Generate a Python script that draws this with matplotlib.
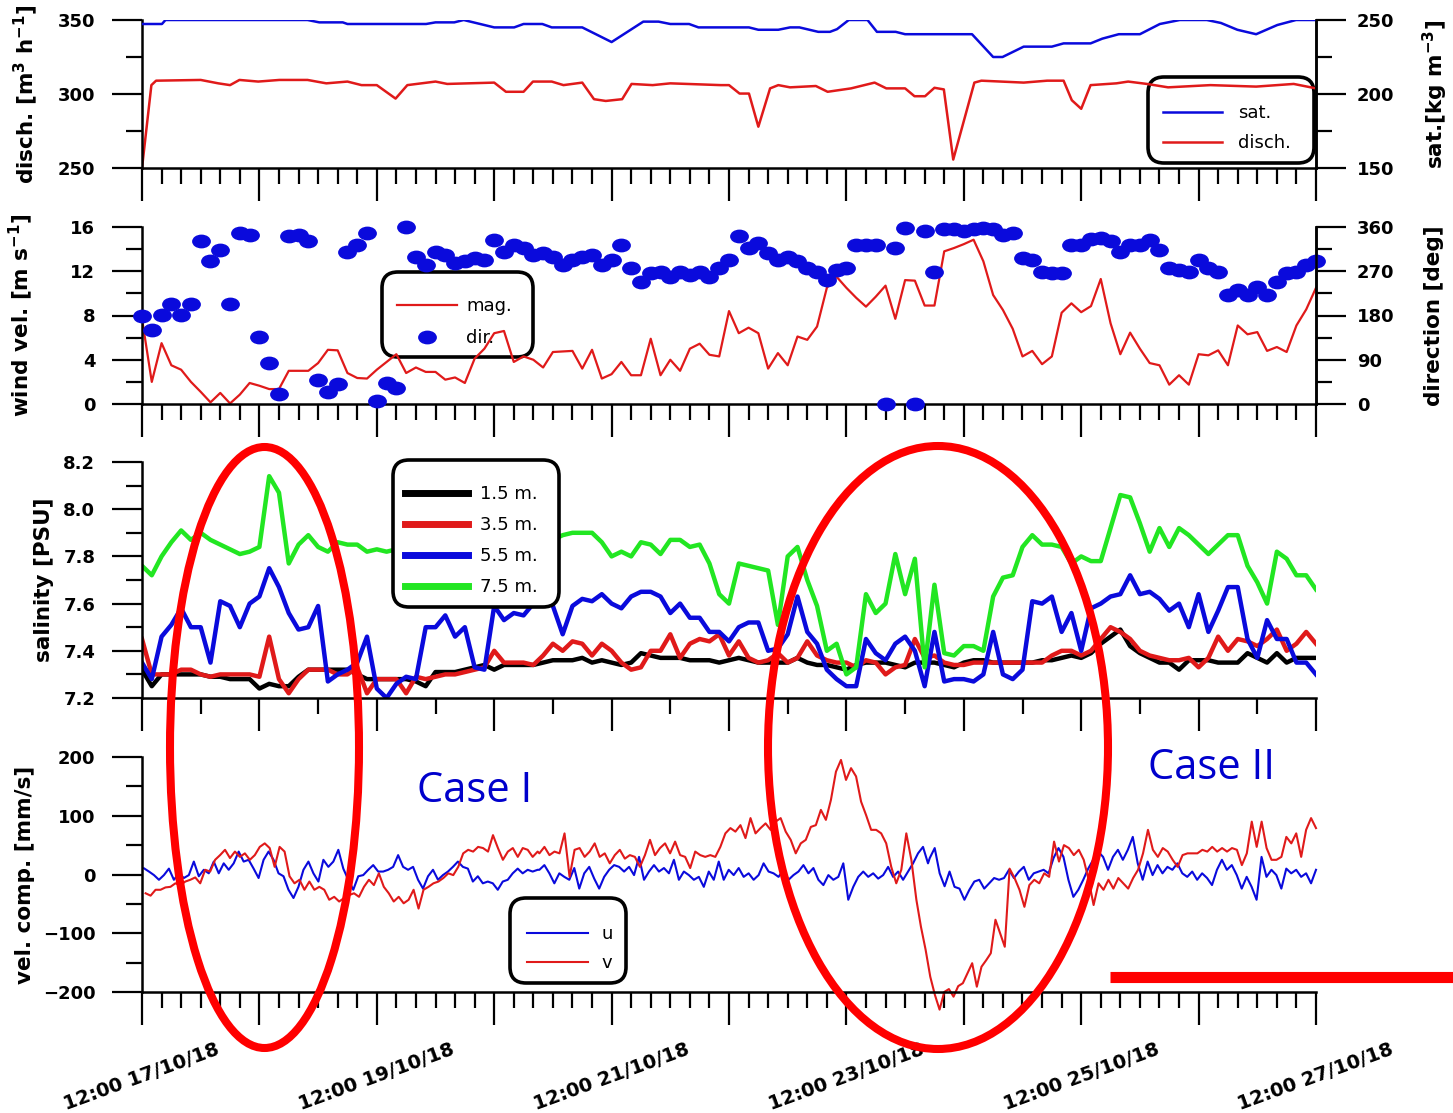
import numpy as np
import matplotlib
matplotlib.use('Agg')
import matplotlib.pyplot as plt
from matplotlib.patches import Ellipse, FancyBboxPatch
from matplotlib.lines import Line2D
from matplotlib.path import Path
from matplotlib.transforms import Affine2D
from matplotlib.ticker import MultipleLocator, FormatStrFormatter, FuncFormatter

plt.rcParams['font.family'] = ['DejaVu Sans']
plt.rcParams['font.weight'] = 'bold'
plt.rcParams['mathtext.fontset'] = 'custom'
plt.rcParams['mathtext.rm'] = 'DejaVu Sans:bold'
plt.rcParams['mathtext.it'] = 'DejaVu Sans:bold'
plt.rcParams['mathtext.bf'] = 'DejaVu Sans:bold'
plt.rcParams['mathtext.default'] = 'rm'

# ---------------- data (time in days after 12:00 17/10/18) ----------------
tick_days = [0, 2, 4, 6, 8, 10]
tick_labels = ['12:00 17/10/18', '12:00 19/10/18', '12:00 21/10/18',
               '12:00 23/10/18', '12:00 25/10/18', '12:00 27/10/18']

# saturation [kg m-3]
sat_t = [0, 0.17, 0.2, 1.41, 1.51, 1.71, 1.75, 2.42, 2.5, 2.66, 2.74, 3.0, 3.17, 3.25,
         3.41, 3.49, 3.75, 4.0, 4.27, 4.4, 4.5, 4.66, 4.74, 5.17, 5.25, 5.42, 5.52, 5.6,
         5.76, 5.86, 5.92, 6.02, 6.18, 6.26, 6.42, 6.5, 7.07, 7.25, 7.33, 7.51, 7.75,
         7.85, 8.08, 8.18, 8.32, 8.5, 8.67, 8.84, 9.07, 9.19, 9.33, 9.49, 9.67, 9.83, 10.0]
sat_v = [247.3, 247.3, 250, 250, 248.4, 248.4, 247.3, 247.3, 248.4, 248.4, 250, 245, 245,
         247.3, 247.3, 245, 245, 235.1, 248.9, 248.9, 247.3, 247.3, 245, 245, 243.4, 243.4,
         245, 245, 242, 242, 243.8, 250, 250, 242, 242, 240.4, 240.4, 225, 225, 232, 232,
         234.2, 234.2, 237.4, 240.4, 240.4, 247.3, 250, 250, 248, 243.4, 240.4, 246.6, 250, 250]

# discharge [m3 h-1]
disch_t = [0, 0.08, 0.12, 0.5, 0.65, 0.75, 0.83, 0.99, 1.17, 1.41, 1.57, 1.75, 1.87, 2.0,
           2.16, 2.26, 2.5, 2.6, 3.0, 3.1, 3.25, 3.33, 3.49, 3.59, 3.75, 3.85, 3.95, 4.09,
           4.17, 4.35, 4.5, 4.93, 5.0, 5.09, 5.17, 5.25, 5.35, 5.42, 5.52, 5.74, 5.84, 6.04,
           6.24, 6.34, 6.5, 6.58, 6.67, 6.75, 6.83, 6.91, 7.09, 7.15, 7.51, 7.71, 7.85, 7.92,
           8.0, 8.08, 8.3, 8.4, 8.56, 8.74, 9.1, 9.49, 9.81, 10.0]
disch_v = [250, 306, 309, 309.5, 307.2, 306, 309.5, 308.4, 309.5, 309.5, 307.2, 308.4, 306,
           306, 296.9, 306, 308.4, 306.8, 307.7, 301.5, 301.5, 308.4, 308.4, 306, 307.7,
           296.5, 295.3, 296.5, 306.8, 306, 307.2, 306, 306, 300.3, 300.3, 277.9, 303.8, 306,
           304.5, 305.4, 301.5, 303.8, 307.7, 303.8, 303.8, 298.5, 298.5, 304.2, 303.1, 255.7,
           307.7, 309, 307.7, 309, 309, 295.8, 290, 306, 307.2, 308.4, 306.8, 304.5, 306,
           305, 306.8, 303.8]

# wind, 2-hourly
wind_mag = [7.7, 2.0, 5.5, 3.5, 3.1, 2.0, 1.1, 0.15, 1.0, 0.05, 0.85, 1.9, 1.65, 1.35, 1.35,
            3.0, 3.0, 3.0, 3.7, 4.9, 4.85, 2.8, 2.35, 2.3, 3.1, 3.8, 4.5, 2.8, 3.3, 2.9, 2.9,
            2.2, 2.4, 1.9, 4.1, 5.0, 6.4, 6.6, 3.8, 4.3, 4.0, 3.3, 4.7, 4.75, 4.8, 3.2, 4.9,
            2.3, 2.7, 3.8, 2.6, 2.6, 5.9, 2.6, 4.0, 3.0, 5.0, 5.45, 4.45, 4.3, 8.4, 6.4, 6.9,
            6.4, 3.2, 4.6, 3.5, 6.1, 5.8, 7.0, 10.5, 11.5, 10.5, 9.6, 8.8, 9.7, 10.7, 7.7,
            11.2, 11.15, 8.9, 8.9, 13.8, 14.1, 14.45, 14.85, 12.9, 9.85, 8.5, 6.8, 4.3, 4.8,
            3.6, 4.3, 8.25, 9.1, 8.3, 8.85, 11.3, 7.3, 4.5, 6.45, 5.0, 3.7, 3.5, 1.75, 2.6,
            1.75, 4.5, 4.4, 4.85, 3.5, 7.1, 6.3, 6.5, 4.8, 5.15, 4.7, 7.1, 8.55, 10.5]
wind_dir = [179, 150, 181, 203, 181, 203, 331, 290, 314, 203, 348, 344, 136, 84, 20, 341,
            344, 331, 48, 24, 41, 310, 324, 348, 7, 42, 33, 360, 300, 283, 310, 303, 286,
            290, 297, 293, 334, 310, 324, 317, 303, 307, 300, 283, 293, 300, 303, 283, 293,
            324, 276, 249, 266, 269, 259, 269, 262, 269, 259, 276, 292, 341, 317, 327, 307,
            293, 300, 290, 276, 269, 252, 273, 276, 324, 324, 324, 0, 317, 358, 0, 351, 269,
            355, 356, 351, 356, 358, 355, 344, 348, 297, 293, 269, 266, 266, 324, 324, 335,
            337, 331, 310, 324, 324, 334, 314, 276, 273, 269, 293, 276, 269, 222, 232, 222,
            237, 222, 249, 266, 269, 283, 290]

# salinity [PSU], 2-hourly
sal_15 = [7.32, 7.25, 7.30, 7.30, 7.30, 7.30, 7.30, 7.29, 7.29, 7.28, 7.28, 7.28, 7.24, 7.26,
          7.25, 7.25, 7.29, 7.32, 7.32, 7.32, 7.32, 7.32, 7.30, 7.28, 7.28, 7.28, 7.28, 7.28,
          7.27, 7.25, 7.31, 7.31, 7.31, 7.32, 7.33, 7.34, 7.32, 7.34, 7.34, 7.34, 7.34, 7.35,
          7.36, 7.36, 7.36, 7.37, 7.35, 7.36, 7.35, 7.34, 7.35, 7.39, 7.38, 7.37, 7.37, 7.37,
          7.36, 7.36, 7.36, 7.35, 7.36, 7.37, 7.36, 7.35, 7.35, 7.35, 7.35, 7.37, 7.35, 7.34,
          7.34, 7.33, 7.32, 7.34, 7.35, 7.35, 7.35, 7.34, 7.33, 7.35, 7.35, 7.35, 7.34, 7.33,
          7.35, 7.36, 7.36, 7.35, 7.35, 7.35, 7.35, 7.35, 7.36, 7.36, 7.37, 7.38, 7.37, 7.39,
          7.43, 7.46, 7.49, 7.42, 7.39, 7.37, 7.35, 7.35, 7.32, 7.36, 7.36, 7.36, 7.35, 7.35,
          7.35, 7.39, 7.37, 7.35, 7.39, 7.35, 7.37, 7.37, 7.37]
sal_35 = [7.45, 7.30, 7.30, 7.30, 7.32, 7.32, 7.30, 7.29, 7.30, 7.30, 7.30, 7.30, 7.29, 7.46,
          7.28, 7.22, 7.28, 7.32, 7.32, 7.32, 7.30, 7.30, 7.33, 7.22, 7.28, 7.28, 7.28, 7.22,
          7.29, 7.28, 7.29, 7.30, 7.30, 7.31, 7.32, 7.33, 7.40, 7.35, 7.35, 7.35, 7.34, 7.38,
          7.43, 7.40, 7.44, 7.43, 7.38, 7.43, 7.40, 7.35, 7.32, 7.33, 7.40, 7.40, 7.47, 7.37,
          7.43, 7.45, 7.44, 7.47, 7.38, 7.44, 7.37, 7.35, 7.36, 7.39, 7.35, 7.37, 7.44, 7.38,
          7.36, 7.35, 7.35, 7.33, 7.36, 7.35, 7.30, 7.33, 7.34, 7.45, 7.37, 7.38, 7.35, 7.34,
          7.34, 7.35, 7.35, 7.35, 7.35, 7.35, 7.35, 7.35, 7.35, 7.38, 7.40, 7.40, 7.38, 7.40,
          7.45, 7.50, 7.48, 7.45, 7.40, 7.38, 7.37, 7.36, 7.36, 7.37, 7.33, 7.37, 7.46, 7.40,
          7.45, 7.44, 7.42, 7.45, 7.49, 7.40, 7.43, 7.48, 7.43]
sal_55 = [7.35, 7.28, 7.46, 7.51, 7.58, 7.50, 7.50, 7.35, 7.61, 7.59, 7.50, 7.60, 7.63, 7.75,
          7.67, 7.56, 7.49, 7.50, 7.59, 7.27, 7.30, 7.32, 7.35, 7.46, 7.24, 7.20, 7.26, 7.29,
          7.28, 7.50, 7.50, 7.55, 7.46, 7.50, 7.33, 7.32, 7.59, 7.53, 7.56, 7.55, 7.60, 7.66,
          7.59, 7.47, 7.59, 7.62, 7.61, 7.64, 7.60, 7.58, 7.63, 7.65, 7.65, 7.63, 7.56, 7.60,
          7.54, 7.54, 7.48, 7.48, 7.44, 7.50, 7.52, 7.52, 7.40, 7.41, 7.47, 7.63, 7.48, 7.43,
          7.32, 7.28, 7.25, 7.25, 7.45, 7.39, 7.36, 7.43, 7.46, 7.40, 7.25, 7.48, 7.27, 7.28,
          7.28, 7.27, 7.30, 7.48, 7.30, 7.28, 7.32, 7.61, 7.60, 7.63, 7.48, 7.56, 7.40, 7.58,
          7.60, 7.63, 7.64, 7.72, 7.64, 7.65, 7.62, 7.57, 7.60, 7.50, 7.64, 7.48, 7.57, 7.67,
          7.67, 7.45, 7.37, 7.53, 7.45, 7.45, 7.35, 7.35, 7.30]
sal_75 = [7.76, 7.72, 7.80, 7.86, 7.91, 7.87, 7.90, 7.87, 7.85, 7.83, 7.81, 7.82, 7.84, 8.14,
          8.07, 7.77, 7.85, 7.89, 7.84, 7.82, 7.86, 7.85, 7.85, 7.82, 7.83, 7.82, 7.83, 7.84,
          7.82, 7.85, 7.86, 7.84, 7.85, 7.83, 7.86, 7.87, 7.85, 7.86, 7.88, 7.87, 7.86, 7.88,
          7.87, 7.89, 7.90, 7.90, 7.90, 7.86, 7.80, 7.82, 7.80, 7.86, 7.85, 7.81, 7.87, 7.87,
          7.84, 7.85, 7.77, 7.64, 7.60, 7.77, 7.76, 7.75, 7.74, 7.51, 7.80, 7.84, 7.70, 7.59,
          7.40, 7.43, 7.30, 7.33, 7.64, 7.56, 7.60, 7.81, 7.64, 7.79, 7.33, 7.68, 7.39, 7.38,
          7.42, 7.42, 7.40, 7.63, 7.71, 7.72, 7.84, 7.89, 7.85, 7.85, 7.84, 7.77, 7.80, 7.78,
          7.78, 7.92, 8.06, 8.05, 7.94, 7.82, 7.92, 7.84, 7.92, 7.89, 7.85, 7.81, 7.85, 7.89,
          7.89, 7.76, 7.69, 7.60, 7.82, 7.79, 7.72, 7.72, 7.66]

# velocity components [mm/s], hourly records in three stretches
u_spans = [(0.017, 3.37), (3.385, 6.695), (6.71, 10.0)]
u_part1 = [10.5, 5, -1, -9, -1, 10, -9, 2, -6, -1, 22, -3, 8, 2, 22, 2, 19, 8, 19, 39,
           22, 25, 10, -6, 25, 39, 25, 2, -3, -26, -40, -21, 8, 22, 2, -12, 25, 13, 22, 42,
           10, -9, -26, -3, -1, 8, 16, 5, 5, 8, 13, 33, 13, 8, 13, -9, -24, -3, 8, -9,
           -1, 5, 13, 22, 13, 10, -12, -3, -15, -12, -15, -26, -12, -9, 2, 10, 2, 8, 5, 8]
u_part2 = [8, 16, 2, -15, 2, -4, -9, 11, -24, 2, 13, -7, -24, -4, 8, 16, 13, 5, 13, -1,
           30, -9, 5, 16, 5, 11, 2, 25, -9, 5, -1, -9, -4, -21, 5, -9, 22, -9, 8, -1,
           11, -4, 2, -9, -1, 19, 5, 2, -4, 8, -9, -1, 5, 16, 2, 11, -9, -18, -1, -9,
           -4, 19, -43, -21, -4, 5, -4, 2, -7, -1, 13, -4, 5, -9, 5, 19, 36, 47, 19]
u_part3 = [28, 45, 2, -20, 5, -21, -24, -43, -26, -12, -9, -24, -15, -6, -9, -6, 8, -6, 5, 13,
           -9, 2, 5, 8, 2, 28, 45, 30, -9, -38, -26, -9, 10, 25, 39, 30, 8, 30, 42, 25,
           42, 64, 19, -9, 22, -1, 16, 2, 13, 8, 19, 2, -4, 5, -9, 2, -6, -18, 8, 25,
           8, 16, -1, -24, -4, -21, -43, 30, -4, 8, -1, -24, 10, 2, 8, -4, 2, -15, 8]

v_spans = [(0.031, 3.37), (3.385, 6.596), (6.635, 7.349), (7.39, 10.0)]
v_part1 = [-32, -36, -26, -26, -22, -21, -15, -18, -12, -9, -5, -15, 8, 5, 25, 33, 42, 28, 39, 30,
           36, 25, 33, 47, 53, 45, 13, 47, 39, -3, -15, -9, -26, -12, -26, -21, -26, -43, -38, -46,
           -40, -35, -32, -38, -21, -9, -18, 2, -21, -32, -46, -38, -49, -43, -26, -58, -26, -21,
           -15, -12, -6, 2, -1, 13, 36, 42, 39, 47, 45, 39, 67, 45, 25, 39, 45, 30, 45, 42, 30, 39]
v_part2 = [36, 47, 33, 39, 36, 70, -4, 42, 45, 30, 39, 53, 30, 36, 19, 33, 42, 27, 33, 30,
           13, 33, 59, 33, 45, 53, 36, 56, 33, 30, 11, 39, 33, 30, 33, 30, 47, 70, 79, 73,
           84, 62, 96, 70, 79, 87, 76, 90, 96, 73, 59, 36, 53, 59, 81, 84, 110, 93, 127, 175,
           195, 161, 181, 167, 124, 101, 76, 76, 70, 53, 13, -15, 8, 70, 25, -43]
v_part3 = [-89, -128, -174, -205, -230, -200, -195, -208, -190, -185, -168, -151, -191, -157,
           -146, -134, -77, -100, -123]
v_part4 = [10, -6, -26, -55, -18, -9, -15, 2, -4, 56, 22, 50, 45, 33, 42, 25, -9, -52, -15, -26,
           -9, -24, -6, -15, -24, -6, 8, 36, 76, 42, 30, 45, 39, 25, 13, 33, 36, 36, 36, 42,
           39, 47, 39, 45, 39, 45, 42, 16, 36, 90, 47, 90, 45, 25, 25, 30, 64, 53, 70, 30,
           76, 96, 79]

# ---------------- figure ----------------
W, H = 1453, 1113
fig = plt.figure(figsize=(W / 100, H / 100), dpi=100)


def fx(px):
    return px / W


def fy(py):
    return 1 - py / H


LEFT, RIGHT = 142, 1316


def add_panel(top, bottom):
    return fig.add_axes([fx(LEFT), fy(bottom), (RIGHT - LEFT) / W, (bottom - top) / H])


ax1 = add_panel(20, 168)
ax2 = add_panel(227, 404)
ax3 = add_panel(462, 698)
ax4 = add_panel(757, 992)

BLUE = '#0A0ADC'
RED = '#E01A1A'
GREEN = '#22E622'
SPW = 1.8
TW = 1.6
YLAB = dict(fontsize=15.5, fontweight='bold')


def style(ax, minor_x, right=False):
    ax.set_xlim(0, 10)
    ax.spines['top'].set_visible(False)
    ax.spines['right'].set_visible(right)
    for s in ax.spines.values():
        s.set_linewidth(SPW)
    ax.xaxis.set_major_locator(MultipleLocator(1))
    ax.xaxis.set_minor_locator(MultipleLocator(minor_x))
    ax.tick_params(axis='x', which='major', length=23.5, width=TW, direction='out',
                   labelbottom=False)
    ax.tick_params(axis='x', which='minor', length=11.5, width=TW, direction='out')
    ax.tick_params(axis='y', which='major', length=21.6, width=TW, pad=12, labelsize=13)
    ax.tick_params(axis='y', which='minor', length=11.5, width=TW)
    ax.patch.set_alpha(0)


def style_right(axr):
    for s in ['top', 'left', 'bottom']:
        axr.spines[s].set_visible(False)
    axr.spines['right'].set_linewidth(SPW)
    axr.tick_params(axis='y', which='major', length=21.6, width=TW, pad=8, labelsize=13)
    axr.tick_params(axis='y', which='minor', length=11.5, width=TW)


def frame_box(ax, x0, y0, x1, y1, z):
    box = FancyBboxPatch((x0 / 100, (H - y1) / 100), (x1 - x0) / 100, (y1 - y0) / 100,
                         boxstyle='round,pad=0,rounding_size=0.16',
                         transform=fig.dpi_scale_trans, facecolor='white',
                         edgecolor='black', lw=2.6, zorder=z)
    ax.add_artist(box)
    box.set_clip_on(False)


def legend_at(ax, handles, labels, x_px, y_px, hl, htp, ls, z=6):
    leg = ax.legend(handles, labels, loc='center left',
                    bbox_to_anchor=(fx(x_px), fy(y_px)), bbox_transform=fig.transFigure,
                    frameon=False, borderpad=0, borderaxespad=0, handlelength=hl,
                    handletextpad=htp, labelspacing=ls, numpoints=1,
                    prop={'size': 13, 'weight': 'normal'})
    leg.set_zorder(z)
    return leg


# ---- panel 1: discharge and saturation ----
style(ax1, 1 / 6, right=True)
ax1.set_ylim(250, 350)
ax1.yaxis.set_major_locator(MultipleLocator(50))
ax1.yaxis.set_minor_locator(MultipleLocator(25))
ax1r = ax1.twinx()
style_right(ax1r)
ax1r.set_ylim(150, 250)
ax1r.yaxis.set_major_locator(MultipleLocator(50))
ax1r.yaxis.set_minor_locator(MultipleLocator(25))
frame_box(ax1, 1148, 77, 1314, 163, 1)
l_disch, = ax1.plot(disch_t, disch_v, color=RED, lw=1.8, zorder=2)
l_sat, = ax1r.plot(sat_t, sat_v, color=BLUE, lw=1.8)
legend_at(ax1r, [l_sat, l_disch], ['sat.', 'disch.'], 1163, 128, 3.27, 0.89, 0.66)
ax1.set_ylabel(r'disch. [m$^{3}$ h$^{-1}$]', **YLAB)
ax1.yaxis.set_label_coords((40 - LEFT) / (RIGHT - LEFT), 0.5)
ax1r.set_ylabel(r'sat.[kg m$^{-3}$]', **YLAB)
ax1r.yaxis.set_label_coords((1421 - LEFT) / (RIGHT - LEFT), 0.5)

# ---- panel 2: wind ----
t2h = np.arange(len(wind_mag)) / 12.0
style(ax2, 1 / 6, right=True)
ax2.set_ylim(0, 16)
ax2.yaxis.set_major_locator(MultipleLocator(4))
ax2.yaxis.set_minor_locator(MultipleLocator(2))
ax2r = ax2.twinx()
style_right(ax2r)
ax2r.set_ylim(0, 360)
ax2r.yaxis.set_major_locator(MultipleLocator(90))
ax2r.yaxis.set_minor_locator(MultipleLocator(45))
frame_box(ax2, 382, 272, 533, 357, 1)
l_mag, = ax2.plot(t2h, wind_mag, color=RED, lw=1.6, zorder=2)
dot = Path.unit_circle().transformed(Affine2D().scale(1.4, 1.0))
l_dir, = ax2r.plot(np.arange(len(wind_dir)) / 12.0, wind_dir, ls='none', marker=dot,
                   ms=12.5, color=BLUE, mec=BLUE, clip_on=False)
legend_at(ax2r, [l_mag, l_dir], ['mag.', 'dir.'], 397, 322, 3.32, 0.5, 0.78)
ax2.set_ylabel(r'wind vel. [m s$^{-1}$]', **YLAB)
ax2.yaxis.set_label_coords((35 - LEFT) / (RIGHT - LEFT), 0.5)
ax2r.set_ylabel('direction [deg]', **YLAB)
ax2r.yaxis.set_label_coords((1424 - LEFT) / (RIGHT - LEFT), 0.5)

# ---- panel 3: salinity ----
style(ax3, 0.5)
ax3.set_ylim(7.2, 8.2)
ax3.yaxis.set_major_locator(MultipleLocator(0.2))
ax3.yaxis.set_minor_locator(MultipleLocator(0.1))
ax3.yaxis.set_major_formatter(FormatStrFormatter('%.1f'))
tsal = np.arange(len(sal_15)) / 12.0
sal_lines = []
for vals, col in [(sal_15, 'black'), (sal_35, RED), (sal_55, BLUE), (sal_75, GREEN)]:
    ln, = ax3.plot(tsal, vals, color=col, lw=3.2, zorder=2)
    sal_lines.append(ln)
frame_box(ax3, 393, 460, 559, 607, 5)
leg3 = legend_at(ax3, sal_lines, ['1.5 m.', '3.5 m.', '5.5 m.', '7.5 m.'],
                 405, 540.5, 3.49, 0.66, 0.72, z=6)
for ln in leg3.get_lines():
    ln.set_linewidth(5)
ax3.set_ylabel('salinity [PSU]', **YLAB)
ax3.yaxis.set_label_coords((54 - LEFT) / (RIGHT - LEFT), 0.5)

# ---- panel 4: velocity components ----
style(ax4, 1 / 6)
ax4.set_ylim(-200, 200)
ax4.yaxis.set_major_locator(MultipleLocator(100))
ax4.yaxis.set_minor_locator(MultipleLocator(50))
u_t = np.concatenate([np.linspace(a, b, len(p)) for (a, b), p in
                      zip(u_spans, [u_part1, u_part2, u_part3])])
u_v = np.concatenate([u_part1, u_part2, u_part3])
v_t = np.concatenate([np.linspace(a, b, len(p)) for (a, b), p in
                      zip(v_spans, [v_part1, v_part2, v_part3, v_part4])])
v_v = np.concatenate([v_part1, v_part2, v_part3, v_part4])
frame_box(ax4, 510, 898, 626, 983, 1)
l_u, = ax4.plot(u_t, u_v, color=BLUE, lw=1.5, clip_on=False, zorder=2)
l_v, = ax4.plot(v_t, v_v, color=RED, lw=1.5, clip_on=False, zorder=2)
legend_at(ax4, [l_u, l_v], ['u', 'v'], 527, 948.5, 3.38, 0.72, 0.61)
ax4.set_ylabel('vel. comp. [mm/s]', **YLAB)
ax4.yaxis.set_label_coords((35 - LEFT) / (RIGHT - LEFT), 0.5)

label_map = dict(zip(tick_days, tick_labels))
ax4.xaxis.set_major_formatter(FuncFormatter(lambda x, pos: label_map.get(int(round(x)), '')
                                            if abs(x - round(x)) < 1e-6 else ''))
ax4.tick_params(axis='x', which='major', labelbottom=True, labelsize=14, pad=10.8,
                labelrotation=20)

# bold tick labels on every axis
fig.canvas.draw()
for ax in [ax1, ax1r, ax2, ax2r, ax3, ax4]:
    for lab in ax.get_yticklabels() + ax.get_xticklabels():
        lab.set_fontweight('bold')

# ---- annotations ----
for cx, cy, w, h in [(264.5, 747.5, 189, 601), (938, 747.5, 340, 603)]:
    fig.add_artist(Ellipse((fx(cx), fy(cy)), w / W, h / H, transform=fig.transFigure,
                           fill=False, edgecolor='#FF0000', lw=5.8, zorder=20))
fig.add_artist(Line2D([fx(1110), fx(1453)], [fy(977), fy(977)], transform=fig.transFigure,
                      color='#FF0000', lw=8, solid_capstyle='butt', zorder=20))
fig.text(fx(417), fy(802), 'Case I', fontsize=30, family=['Open Sans', 'DejaVu Sans'],
         fontweight='normal', color='#0000CC', ha='left', va='baseline', zorder=21)
fig.text(fx(1148), fy(779), 'Case II', fontsize=30, family=['Open Sans', 'DejaVu Sans'],
         fontweight='normal', color='#0000CC', ha='left', va='baseline', zorder=21)

fig.savefig('out.png', dpi=100)
